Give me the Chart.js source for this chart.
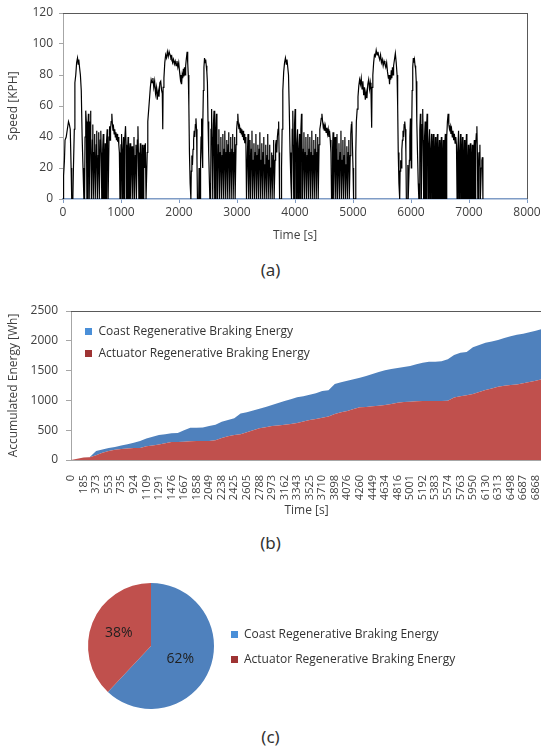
<!DOCTYPE html>
<html>
<head>
<meta charset="utf-8">
<script src="https://cdn.jsdelivr.net/npm/chart.js@4.4.1/dist/chart.umd.min.js"></script>
<style>
  html, body { margin: 0; padding: 0; background: #fff; }
  body { width: 541px; height: 748px; overflow: hidden; position: relative; }
  canvas { position: absolute; left: 0; }
  .cap { position: absolute; left: 0; width: 541px; text-align: center; font-family: "Noto Sans", sans-serif; font-size: 17px; color: #333; line-height: 20px; }
</style>
</head>
<body>
<canvas id="speedChart" width="541" height="250" style="top:0"></canvas>
<div class="cap" style="top:260px">(a)</div>
<canvas id="energyChart" width="545" height="230" style="top:290px"></canvas>
<div class="cap" style="top:533px">(b)</div>
<canvas id="shareChart" width="541" height="145" style="top:575px"></canvas>
<div class="cap" style="top:727px">(c)</div>
<script>
// (a) drive cycle, [time s, speed kph]
var launchSpeed = [[0,0],[10,15],[25,25],[35,38],[55,40],[75,45],[95,50],[110,48],[125,45],[140,20],[150,0],[170,0],[180,20],[195,45],[205,75],[220,80],[235,88],[250,91],[262,87],[272,90],[285,85],[300,80],[315,70],[330,40],[345,20],[360,0]];
var urban1Speed = [[372,0],[380,40],[392,57],[402,50],[412,0],[420,0],[428,45],[438,55],[446,30],[452,0],[458,0],[466,50],[474,57],[482,40],[490,0],[498,0],[506,38],[514,48],[522,0],[530,0],[538,30],[546,42],[556,0],[566,0],[574,35],[582,44],[592,0],[600,0],[608,28],[616,43],[626,0],[634,0],[642,38],[652,44],[660,30],[668,0],[676,0],[684,32],[694,42],[704,0],[712,0],[720,25],[728,36],[736,0],[744,0],[752,38],[762,45],[770,30],[778,0],[786,0],[794,40],[804,47],[812,38],[820,45],[830,50],[842,55],[852,48],[862,44],[872,46],[882,42],[892,45],[902,40],[912,43],[922,38],[932,42],[942,37],[952,40],[962,35],[972,30],[982,0],[992,0],[1000,35],[1010,42],[1018,0],[1026,0],[1034,30],[1044,40],[1052,0],[1060,0],[1068,38],[1078,47],[1088,35],[1096,0],[1104,0],[1112,28],[1122,40],[1130,0],[1138,0],[1146,30],[1156,36],[1164,0],[1172,0],[1180,25],[1190,34],[1198,0],[1206,0],[1214,32],[1224,40],[1232,0],[1240,0],[1248,28],[1258,35],[1266,0],[1274,0],[1282,38],[1292,47],[1300,30],[1308,0],[1316,0],[1324,25],[1334,36],[1342,0],[1350,0],[1358,22],[1368,35],[1376,0],[1384,0],[1392,30],[1402,35],[1410,20],[1420,36],[1432,0]];
var highway1Speed = [[1444,0],[1452,30],[1462,50],[1478,58],[1492,65],[1506,72],[1520,77],[1535,75],[1550,78],[1565,72],[1580,76],[1595,68],[1610,72],[1625,64],[1640,70],[1655,66],[1670,75],[1685,76],[1700,70],[1712,68],[1720,45],[1726,72],[1740,78],[1755,88],[1770,93],[1785,91],[1800,95],[1815,92],[1830,95],[1845,93],[1860,91],[1875,92],[1890,88],[1905,90],[1920,87],[1935,89],[1950,86],[1965,89],[1980,85],[1995,88],[2010,82],[2025,77],[2035,80],[2045,74],[2055,80],[2065,78],[2075,84],[2085,79],[2095,85],[2105,80],[2115,86],[2125,90],[2140,95],[2150,88],[2160,80],[2170,60],[2180,30],[2192,10],[2205,0]];
var suburb1Speed = [[2212,18],[2222,28],[2232,22],[2242,32],[2252,38],[2262,44],[2272,40],[2282,48],[2292,52],[2302,45],[2310,25],[2318,0],[2340,0],[2346,20],[2352,0],[2365,0],[2372,25],[2380,40],[2390,52],[2398,30],[2405,20],[2413,45],[2420,70],[2430,85],[2440,91],[2450,88],[2460,90],[2470,86],[2480,82],[2490,75],[2500,50],[2512,30],[2525,10],[2532,0]];
var urban2Speed = [[2545,0],[2552,45],[2562,58],[2570,40],[2578,0],[2586,0],[2594,48],[2604,57],[2612,35],[2620,0],[2628,0],[2636,45],[2646,55],[2654,30],[2662,0],[2670,0],[2678,35],[2688,45],[2696,0],[2704,0],[2712,30],[2722,40],[2730,0],[2738,0],[2746,28],[2756,42],[2764,0],[2772,0],[2780,32],[2790,44],[2798,0],[2806,0],[2814,30],[2824,38],[2832,0],[2840,0],[2848,35],[2858,43],[2866,0],[2874,0],[2882,30],[2892,40],[2900,0],[2908,0],[2916,32],[2926,42],[2934,0],[2942,0],[2950,30],[2960,40],[2968,0],[2976,0],[2984,35],[2994,45],[3004,50],[3014,55],[3024,48],[3034,45],[3044,47],[3054,43],[3064,46],[3074,42],[3084,45],[3094,40],[3104,44],[3114,38],[3124,42],[3134,36],[3144,40],[3154,35],[3164,0],[3172,0],[3180,30],[3190,42],[3198,0],[3206,0],[3214,28],[3224,38],[3232,0],[3240,0],[3248,32],[3258,44],[3266,0],[3274,0],[3282,25],[3292,36],[3300,0],[3308,0],[3316,30],[3326,42],[3334,0],[3342,0],[3350,28],[3360,35],[3368,0],[3376,0],[3384,32],[3394,43],[3402,0],[3410,0],[3418,25],[3428,36],[3436,0],[3444,0],[3452,30],[3462,40],[3470,0],[3478,0],[3486,22],[3496,35],[3504,0],[3512,0],[3520,28],[3530,42],[3538,0],[3546,0],[3554,25],[3564,35],[3572,0],[3580,0],[3588,20],[3598,30],[3606,0],[3614,0],[3622,28],[3632,38],[3640,0],[3648,0],[3656,25],[3666,35],[3676,38],[3686,30],[3696,40],[3708,45],[3718,50],[3726,30],[3734,0]];
var peak2Speed = [[3760,0],[3768,20],[3778,45],[3790,70],[3805,82],[3820,88],[3835,91],[3850,87],[3862,90],[3875,85],[3888,80],[3900,60],[3915,30],[3930,10],[3940,0]];
var urban3Speed = [[3945,0],[3952,45],[3962,57],[3970,35],[3978,0],[3984,0],[3992,48],[4002,58],[4010,40],[4018,0],[4026,0],[4034,35],[4044,45],[4052,0],[4060,0],[4068,30],[4078,42],[4086,0],[4094,0],[4102,45],[4112,55],[4120,40],[4128,0],[4136,0],[4144,32],[4154,43],[4162,0],[4170,0],[4178,30],[4188,40],[4196,0],[4204,0],[4212,28],[4222,42],[4230,0],[4238,0],[4246,32],[4256,40],[4264,0],[4272,0],[4280,30],[4290,44],[4298,0],[4306,0],[4314,28],[4324,38],[4332,0],[4340,0],[4348,32],[4358,42],[4366,0],[4374,0],[4382,30],[4392,40],[4400,0],[4408,0],[4416,35],[4428,45],[4440,48],[4452,52],[4464,55],[4476,50],[4488,46],[4500,48],[4512,44],[4524,47],[4536,43],[4548,46],[4560,42],[4572,45],[4584,40],[4596,44],[4608,38],[4620,30],[4630,0],[4638,0],[4646,30],[4656,43],[4664,0],[4672,0],[4680,28],[4690,40],[4698,0],[4706,0],[4714,32],[4724,42],[4732,0],[4740,0],[4748,25],[4758,36],[4766,0],[4774,0],[4782,30],[4792,44],[4800,0],[4808,0],[4816,25],[4826,38],[4834,0],[4842,0],[4850,28],[4860,40],[4868,0],[4876,0],[4884,22],[4894,34],[4902,0],[4910,0],[4918,30],[4928,38],[4936,0],[4944,0],[4952,28],[4962,42],[4972,48],[4980,50],[4990,35],[5000,20],[5010,0],[5030,0]];
var highway2Speed = [[5040,0],[5048,30],[5058,50],[5072,58],[5086,66],[5100,73],[5114,77],[5128,74],[5142,78],[5156,71],[5170,76],[5184,67],[5198,72],[5212,64],[5226,69],[5240,65],[5255,74],[5270,77],[5285,71],[5298,75],[5310,70],[5322,46],[5328,72],[5342,80],[5356,88],[5370,93],[5385,92],[5400,96],[5415,93],[5430,95],[5445,92],[5460,90],[5475,93],[5490,88],[5505,90],[5520,86],[5535,89],[5550,87],[5565,85],[5580,88],[5595,82],[5610,78],[5620,80],[5630,74],[5640,80],[5650,77],[5660,83],[5670,78],[5680,85],[5690,80],[5700,86],[5715,90],[5730,94],[5745,88],[5760,80],[5770,60],[5780,30],[5792,10],[5805,0]];
var suburb2Speed = [[5812,18],[5822,25],[5832,20],[5842,32],[5852,38],[5862,44],[5872,40],[5882,48],[5892,50],[5902,45],[5912,30],[5920,0],[5940,0],[5946,22],[5952,0],[5965,0],[5972,25],[5980,40],[5990,52],[5998,30],[6005,20],[6012,45],[6020,70],[6030,85],[6040,91],[6050,88],[6060,90],[6070,86],[6080,84],[6090,76],[6100,50],[6112,30],[6125,10],[6135,0]];
var urban4Speed = [[6145,0],[6152,45],[6162,55],[6170,40],[6178,0],[6184,0],[6192,48],[6202,58],[6210,38],[6218,0],[6226,0],[6234,40],[6244,50],[6252,0],[6260,0],[6268,45],[6278,55],[6286,35],[6294,0],[6302,0],[6310,35],[6320,45],[6328,0],[6336,0],[6344,30],[6354,42],[6362,0],[6370,0],[6378,32],[6388,42],[6396,0],[6404,0],[6412,28],[6422,40],[6430,0],[6438,0],[6446,30],[6456,42],[6464,0],[6472,0],[6480,28],[6490,38],[6498,0],[6506,0],[6514,32],[6524,40],[6532,0],[6540,0],[6548,28],[6558,38],[6566,0],[6574,0],[6582,35],[6592,42],[6600,0],[6608,0],[6616,40],[6628,50],[6640,55],[6652,48],[6664,45],[6676,47],[6688,42],[6700,45],[6712,40],[6724,44],[6736,38],[6748,42],[6760,36],[6772,40],[6784,35],[6794,0],[6802,0],[6810,30],[6820,44],[6828,0],[6836,0],[6844,28],[6854,42],[6862,0],[6870,0],[6878,30],[6888,40],[6896,0],[6904,0],[6912,25],[6922,38],[6930,0],[6938,0],[6946,30],[6956,42],[6964,0],[6972,0],[6980,22],[6990,35],[6998,0],[7006,0],[7014,28],[7024,36],[7032,0],[7040,0],[7048,25],[7058,35],[7066,0],[7074,0],[7082,30],[7092,38],[7100,0],[7108,0],[7116,35],[7126,42],[7136,47],[7144,30],[7152,0],[7160,0],[7168,20],[7178,30],[7188,35],[7196,0],[7204,0],[7212,20],[7222,25],[7232,27],[7240,0]];

// (b) accumulated energy [Wh]; one sample at each tick label and one between
var energyTimeLabels = [0, 185, 373, 553, 735, 924, 1109, 1291, 1476, 1667, 1858, 2049, 2238, 2425, 2605, 2788, 2973, 3162, 3343, 3525, 3710, 3898, 4076, 4260, 4449, 4634, 4816, 5001, 5192, 5383, 5574, 5763, 5950, 6130, 6313, 6498, 6687, 6868];
var actuatorEnergy = [0, 20, 40, 48, 80, 120, 150, 170, 185, 195, 200, 200, 230, 245, 260, 280, 300, 300, 305, 315, 320, 320, 320, 330, 370, 400, 420, 430, 464, 500, 531, 550, 570, 580, 593, 605, 621, 645, 671, 690, 710, 730, 772, 800, 822, 855, 884, 890, 900, 910, 923, 940, 962, 972, 979, 985, 990, 990, 990, 992, 995, 1050, 1068, 1085, 1107, 1140, 1174, 1200, 1230, 1245, 1258, 1265, 1286, 1310, 1331, 1355];
var coastEnergy = [0, 0, 0, 2, 70, 55, 50, 50, 60, 70, 90, 120, 130, 145, 160, 150, 150, 155, 195, 225, 222, 225, 250, 260, 273, 270, 279, 350, 336, 330, 330, 340, 353, 375, 397, 415, 430, 425, 425, 430, 448, 440, 503, 505, 509, 500, 497, 520, 543, 565, 581, 585, 581, 588, 598, 620, 643, 660, 660, 663, 695, 710, 732, 725, 783, 790, 794, 790, 783, 800, 817, 835, 834, 835, 839, 845];

// (c) share of regenerative braking energy [%]
var shareLabels = ['Coast Regenerative Braking Energy', 'Actuator Regenerative Braking Energy'];
var shareValues = [62, 38];

var coastColor = '#4f81bd';
var actuatorColor = '#c0504d';
var legendColors = ['#4a8fd8', '#9e3333'];

Chart.defaults.font.family = '"Open Sans", sans-serif';
Chart.defaults.font.size = 12;
Chart.defaults.color = '#404040';
Chart.defaults.animation = false;
Chart.defaults.plugins.tooltip.enabled = false;
Chart.defaults.plugins.legend.display = false;

// plain numbers, no thousands separator
function plainTick(value) { return String(value); }

// top (and right) frame line of the plot box
var framePlugin = {
    id: 'frame',
    afterDraw: function (chart, args, opts) {
        var a = chart.chartArea, ctx = chart.ctx;
        ctx.save();
        ctx.strokeStyle = opts.color;
        ctx.lineWidth = 1;
        ctx.beginPath();
        ctx.moveTo(a.left, Math.floor(a.top) + 0.5);
        ctx.lineTo(a.right, Math.floor(a.top) + 0.5);
        if (opts.right) {
            ctx.moveTo(Math.floor(a.right) + 0.5, a.top);
            ctx.lineTo(Math.floor(a.right) + 0.5, a.bottom);
        }
        ctx.stroke();
        ctx.restore();
    }
};

// small square legend, placed relative to the chart area
var boxLegend = {
    id: 'boxLegend',
    afterDraw: function (chart, args, opts) {
        var a = chart.chartArea, ctx = chart.ctx;
        var x = (opts.fromRight ? a.right : a.left) + opts.dx;
        var y = (opts.fromMiddle ? (a.top + a.bottom) / 2 : a.top) + opts.dy;
        ctx.save();
        ctx.font = '12px "Open Sans"';
        ctx.textBaseline = 'middle';
        opts.labels.forEach(function (text, i) {
            var cy = y + i * opts.gap;
            ctx.fillStyle = opts.colors[i];
            ctx.fillRect(Math.round(x - 3.5), Math.round(cy - 3.5), 7, 7);
            ctx.fillStyle = '#333333';
            ctx.fillText(text, x + 10, cy + 0.5);
        });
        ctx.restore();
    }
};

// percentage text inside each pie slice
var sliceLabels = {
    id: 'sliceLabels',
    afterDatasetsDraw: function (chart) {
        var ctx = chart.ctx;
        var values = chart.data.datasets[0].data;
        var total = values.reduce(function (s, v) { return s + v; }, 0);
        ctx.save();
        ctx.font = '14px "Open Sans"';
        ctx.fillStyle = '#1f1f1f';
        ctx.textAlign = 'center';
        ctx.textBaseline = 'middle';
        chart.getDatasetMeta(0).data.forEach(function (arc, i) {
            var p = arc.getProps(['x', 'y', 'startAngle', 'endAngle', 'outerRadius']);
            var mid = (p.startAngle + p.endAngle) / 2;
            var r = p.outerRadius * 0.55;
            ctx.fillText(Math.round(values[i] / total * 100) + '%', p.x + Math.cos(mid) * r - (i === 0 ? 3 : 0), p.y + Math.sin(mid) * r);
        });
        ctx.restore();
    }
};

// ---- (a) speed ----
var speedPoints = [].concat(launchSpeed, urban1Speed, highway1Speed, suburb1Speed, urban2Speed, peak2Speed, urban3Speed, highway2Speed, suburb2Speed, urban4Speed);

new Chart(document.getElementById('speedChart'), {
    type: 'line',
    data: {
        datasets: [{
            data: speedPoints.map(function (p) { return { x: p[0], y: p[1] }; }),
            borderColor: '#000000',
            borderWidth: 1.2,
            pointRadius: 0,
            tension: 0
        }]
    },
    options: {
        responsive: false,
        layout: { padding: { top: 13, right: 14, left: 0, bottom: 0 } },
        scales: {
            x: {
                type: 'linear',
                min: 0,
                max: 8000,
                ticks: { stepSize: 1000, padding: 2, maxRotation: 0, callback: plainTick },
                grid: { drawOnChartArea: false, tickLength: 4, color: '#7f9cc6' },
                border: { color: '#7f9cc6', width: 1.5 },
                title: { display: true, text: 'Time [s]', padding: { top: 0, bottom: 7 } },
                afterFit: function (s) { s.height = 51; s.paddingLeft = 0; s.paddingRight = 0; }
            },
            y: {
                min: 0,
                max: 120,
                ticks: { stepSize: 20, padding: 6, callback: plainTick },
                grid: { drawOnChartArea: false, tickLength: 4, color: '#a6a6a6' },
                border: { color: '#a6a6a6' },
                title: { display: true, text: 'Speed [KPH]', padding: { top: 6, bottom: 0 } },
                afterFit: function (s) { s.width = 63; s.paddingTop = 0; s.paddingBottom = 0; }
            }
        },
        plugins: { frame: { color: '#595959', right: true } }
    },
    plugins: [framePlugin]
});

// ---- (b) accumulated energy ----
var energyCategories = [];
energyTimeLabels.forEach(function (t) { energyCategories.push(String(t), ''); });

new Chart(document.getElementById('energyChart'), {
    type: 'line',
    data: {
        labels: energyCategories,
        datasets: [{
            label: 'Actuator Regenerative Braking Energy',
            data: actuatorEnergy,
            backgroundColor: actuatorColor,
            borderWidth: 0,
            pointRadius: 0,
            fill: 'origin'
        }, {
            label: 'Coast Regenerative Braking Energy',
            data: coastEnergy,
            backgroundColor: coastColor,
            borderWidth: 0,
            pointRadius: 0,
            fill: '-1'
        }]
    },
    options: {
        responsive: false,
        layout: { padding: { top: 21, right: 3, left: 0, bottom: 0 } },
        scales: {
            x: {
                ticks: { autoSkip: false, minRotation: 90, maxRotation: 90, padding: 7, font: { size: 11 } },
                grid: { display: false },
                border: { color: '#a6a6a6' },
                title: { display: true, text: 'Time [s]', padding: { top: 0, bottom: 2 } },
                afterFit: function (s) { s.height = 60; s.paddingLeft = 0; s.paddingRight = 0; }
            },
            y: {
                stacked: true,
                min: 0,
                max: 2500,
                ticks: { stepSize: 250, padding: 8, callback: plainTick },
                grid: { drawOnChartArea: false, tickLength: 5, color: '#a6a6a6' },
                border: { color: '#a6a6a6' },
                title: { display: true, text: 'Accumulated Energy [Wh]', padding: { top: 6, bottom: 0 } },
                afterFit: function (s) { s.width = 71; s.paddingTop = 0; s.paddingBottom = 0; }
            }
        },
        plugins: {
            frame: { color: '#595959', right: false },
            boxLegend: { labels: [shareLabels[0], shareLabels[1]], colors: legendColors, dx: 17.5, dy: 20, gap: 22 }
        }
    },
    plugins: [framePlugin, boxLegend]
});

// ---- (c) share pie ----
new Chart(document.getElementById('shareChart'), {
    type: 'pie',
    data: {
        labels: shareLabels,
        datasets: [{
            data: shareValues,
            backgroundColor: [coastColor, actuatorColor],
            borderWidth: 0
        }]
    },
    options: {
        responsive: false,
        layout: { padding: { top: 8, right: 327, left: 88, bottom: 11 } },
        plugins: {
            boxLegend: { labels: shareLabels, colors: legendColors, fromRight: true, fromMiddle: true, dx: 20, dy: -12, gap: 25 }
        }
    },
    plugins: [sliceLabels, boxLegend]
});
</script>
</body>
</html>
